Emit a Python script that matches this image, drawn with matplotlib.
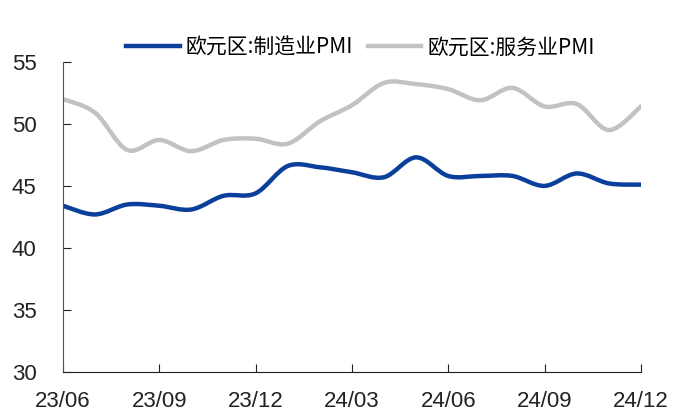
import matplotlib
matplotlib.use("Agg")
import matplotlib.pyplot as plt
from matplotlib.path import Path
from matplotlib.patches import PathPatch
from matplotlib.lines import Line2D

plt.rcParams["font.family"] = ["Noto Sans CJK SC", "DejaVu Sans"]

# monthly, 23/06 .. 24/12
months = ["23/06", "23/07", "23/08", "23/09", "23/10", "23/11", "23/12",
          "24/01", "24/02", "24/03", "24/04", "24/05", "24/06",
          "24/07", "24/08", "24/09", "24/10", "24/11", "24/12"]
manufacturing = [43.4, 42.7, 43.5, 43.4, 43.1, 44.2, 44.4,
                 46.6, 46.5, 46.1, 45.7, 47.3, 45.8,
                 45.8, 45.8, 45.0, 46.0, 45.2, 45.1]
services = [52.0, 50.9, 47.9, 48.7, 47.8, 48.7, 48.8,
            48.4, 50.2, 51.5, 53.3, 53.2, 52.8,
            51.9, 52.9, 51.4, 51.6, 49.5, 51.4]
tick_labels = ["23/06", "23/09", "23/12", "24/03", "24/06", "24/09", "24/12"]

BLUE = "#0b3f9c"
GREY = "#c2c2c2"


def smooth_path(xs, ys):
    # excel-like smoothed line: cubic bezier through each point
    pts = list(zip(xs, ys))
    n = len(pts)
    verts = [pts[0]]
    codes = [Path.MOVETO]
    for i in range(n - 1):
        p0 = pts[i - 1] if i > 0 else pts[i]
        p1 = pts[i]
        p2 = pts[i + 1]
        p3 = pts[i + 2] if i + 2 < n else pts[i + 1]
        c1 = (p1[0] + (p2[0] - p0[0]) / 6, p1[1] + (p2[1] - p0[1]) / 6)
        c2 = (p2[0] - (p3[0] - p1[0]) / 6, p2[1] - (p3[1] - p1[1]) / 6)
        verts += [c1, c2, p2]
        codes += [Path.CURVE4] * 3
    return Path(verts, codes)


fig = plt.figure(figsize=(6.84, 4.12), dpi=100)
ax = fig.add_axes([0.092, 0.097, 0.845, 0.753])

x = list(range(len(months)))
for vals, color in [(services, GREY), (manufacturing, BLUE)]:
    ax.add_patch(PathPatch(smooth_path(x, vals), facecolor="none",
                           edgecolor=color, linewidth=3.2, capstyle="round",
                           joinstyle="round"))

ax.set_xlim(0, len(months) - 1)
ax.set_ylim(30, 55)
ax.set_yticks(range(30, 56, 5))
ax.set_xticks([months.index(t) for t in tick_labels])
ax.set_xticklabels(tick_labels)

for s in ["top", "right"]:
    ax.spines[s].set_visible(False)
ax.spines["left"].set_color("#555555")
ax.spines["bottom"].set_color("#222222")
ax.tick_params(axis="both", direction="in", length=6, labelsize=16,
               colors="#222222")
ax.tick_params(axis="x", pad=14)
ax.tick_params(axis="y", pad=19)
for lab in ax.get_xticklabels() + ax.get_yticklabels():
    lab.set_family(["Liberation Sans", "DejaVu Sans"])

handles = [Line2D([], [], color=BLUE, linewidth=3.2),
           Line2D([], [], color=GREY, linewidth=3.2)]
fig.legend(handles, ["欧元区:制造业PMI", "欧元区:服务业PMI"], loc="center",
           bbox_to_anchor=(0.527, 0.885), ncol=2, frameon=False,
           fontsize=15, handlelength=2.55, handletextpad=0.3,
           columnspacing=0.7)

fig.savefig("out.png", dpi=100)
